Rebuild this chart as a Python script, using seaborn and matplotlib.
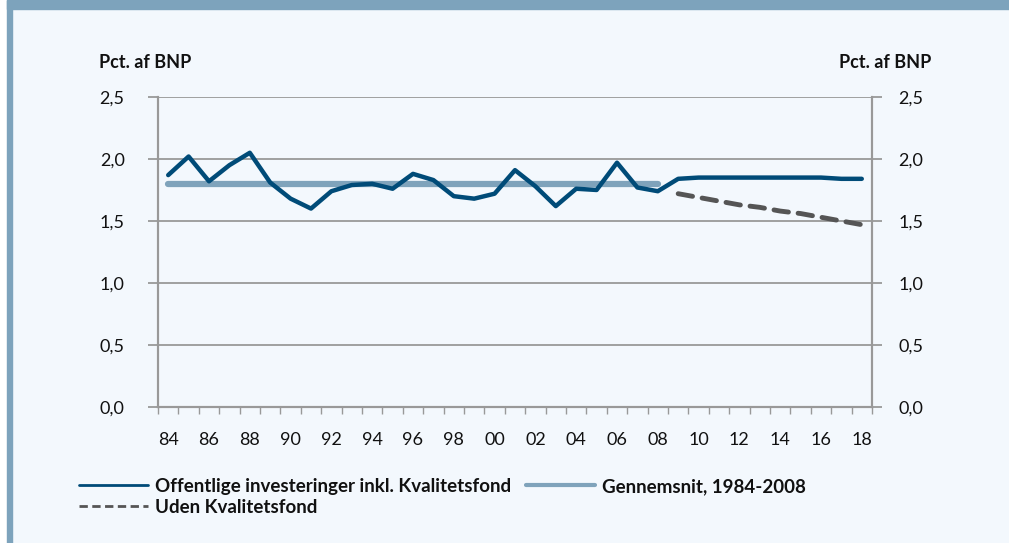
import numpy as np
import pandas as pd
import matplotlib
matplotlib.use("Agg")
import matplotlib.pyplot as plt
import seaborn as sns
from matplotlib.lines import Line2D
from matplotlib.patches import Rectangle
from matplotlib.ticker import FuncFormatter, MultipleLocator, FixedLocator

# data
aar = list(range(1984, 2019))
offentlige = [1.87, 2.02, 1.82, 1.95, 2.05, 1.81, 1.68, 1.60, 1.74, 1.79,
              1.80, 1.76, 1.88, 1.83, 1.70, 1.68, 1.72, 1.91, 1.78, 1.62,
              1.76, 1.75, 1.97, 1.77, 1.74, 1.84, 1.85, 1.85, 1.85, 1.85,
              1.85, 1.85, 1.85, 1.84, 1.84]
gennemsnit_aar = list(range(1984, 2009))
gennemsnit = [1.80] * len(gennemsnit_aar)
uden_aar = list(range(2009, 2019))
uden = [1.72, 1.69, 1.66, 1.63, 1.61, 1.58, 1.56, 1.53, 1.50, 1.47]
x_labels = [f"{a % 100:02d}" for a in range(1984, 2019, 2)]

BG = "#F3F8FD"
BAND = "#7DA3BC"
BLAA = "#004B78"
LYS = "#7FA3BB"
GRAA = "#555555"
AKSE = "#999999"
TEKST = "#111111"

sns.set_theme(style="white")
plt.rcParams["font.family"] = ["Lato", "DejaVu Sans"]

fig = plt.figure(figsize=(10.09, 5.43), dpi=100, facecolor=BG)
ax = fig.add_axes([0.1566, 0.2505, 0.7076, 0.5709], facecolor=BG)

# ramme
fig.patches.append(Rectangle((0, 0), 7 / 1009, 1, transform=fig.transFigure,
                             color="white", zorder=0))
fig.patches.append(Rectangle((7 / 1009, 0), 5 / 1009, 1, transform=fig.transFigure,
                             color=BAND, zorder=0))
fig.patches.append(Rectangle((7 / 1009, 1 - 9 / 543), 1, 9 / 543,
                             transform=fig.transFigure, color=BAND, zorder=0))

df1 = pd.DataFrame({"aar": aar, "v": offentlige})
df2 = pd.DataFrame({"aar": gennemsnit_aar, "v": gennemsnit})
df3 = pd.DataFrame({"aar": uden_aar, "v": uden})

sns.lineplot(data=df2, x="aar", y="v", ax=ax, color=LYS, linewidth=4.5,
             solid_capstyle="round", zorder=2)
sns.lineplot(data=df1, x="aar", y="v", ax=ax, color=BLAA, linewidth=3.2,
             solid_capstyle="round", zorder=3)
sns.lineplot(data=df3, x="aar", y="v", ax=ax, color=GRAA, linewidth=3.5,
             dashes=False, zorder=3)
ax.lines[-1].set_linestyle((0, (3, 2)))
ax.lines[-1].set_dash_capstyle("round")

ax.set_xlim(1983.5, 2018.5)
ax.set_ylim(0, 2.5)
ax.set_xlabel("")
ax.set_ylabel("")

fmt = FuncFormatter(lambda v, p: f"{v:.1f}".replace(".", ","))
ax.yaxis.set_major_locator(MultipleLocator(0.5))
ax.yaxis.set_major_formatter(fmt)
ax.grid(axis="y", color=AKSE, linewidth=1.3)
ax.set_axisbelow(True)

ax.xaxis.set_major_locator(FixedLocator(list(range(1984, 2019, 2))))
ax.set_xticklabels(x_labels)
ax.xaxis.set_minor_locator(FixedLocator([a - 0.5 for a in range(1984, 2020)]))
ax.tick_params(axis="x", which="major", length=0, pad=18, labelsize=13, colors=TEKST)
ax.tick_params(axis="x", which="minor", bottom=True, length=5, width=1,
               color=AKSE, direction="out")
ax.tick_params(axis="y", which="major", length=7, width=1.3, color=AKSE, direction="out",
               left=True, right=False, labelsize=13, labelcolor=TEKST, pad=17)

# højre akse med samme skala
ax2 = ax.twinx()
ax2.set_ylim(0, 2.5)
ax2.yaxis.set_major_locator(MultipleLocator(0.5))
ax2.yaxis.set_major_formatter(fmt)
ax2.grid(False)
ax2.tick_params(axis="y", which="major", length=7, width=1.3, color=AKSE, direction="out",
                right=True, labelsize=13, labelcolor=TEKST, pad=12)

for a in (ax, ax2):
    for s in ["left", "right", "bottom"]:
        a.spines[s].set_visible(True)
        a.spines[s].set_color(AKSE)
        a.spines[s].set_linewidth(1.5)
    a.spines["top"].set_visible(False)

fig.text(145 / 1009, 1 - 62 / 543, "Pct. af BNP", ha="center", va="center",
         fontsize=13, fontweight="bold", color=TEKST)
fig.text(885 / 1009, 1 - 62 / 543, "Pct. af BNP", ha="center", va="center",
         fontsize=13, fontweight="bold", color=TEKST)

handles = [
    Line2D([], [], color=BLAA, linewidth=2),
    Line2D([], [], color=GRAA, linewidth=2, linestyle=(0, (3, 1.6))),
    Line2D([], [], color=LYS, linewidth=3),
]
labels = ["Offentlige investeringer inkl. Kvalitetsfond", "Uden Kvalitetsfond",
          "Gennemsnit, 1984-2008"]
leg = fig.legend(handles, labels, ncol=2, loc="upper left",
                 bbox_to_anchor=(62 / 1009, 1 - 461 / 543), frameon=False,
                 handlelength=3.7, handletextpad=0.35, columnspacing=0.8,
                 labelspacing=0.2, prop={"weight": "bold", "size": 13.5})
for t in leg.get_texts():
    t.set_color(TEKST)

fig.savefig("out.png", dpi=100, facecolor=BG)
